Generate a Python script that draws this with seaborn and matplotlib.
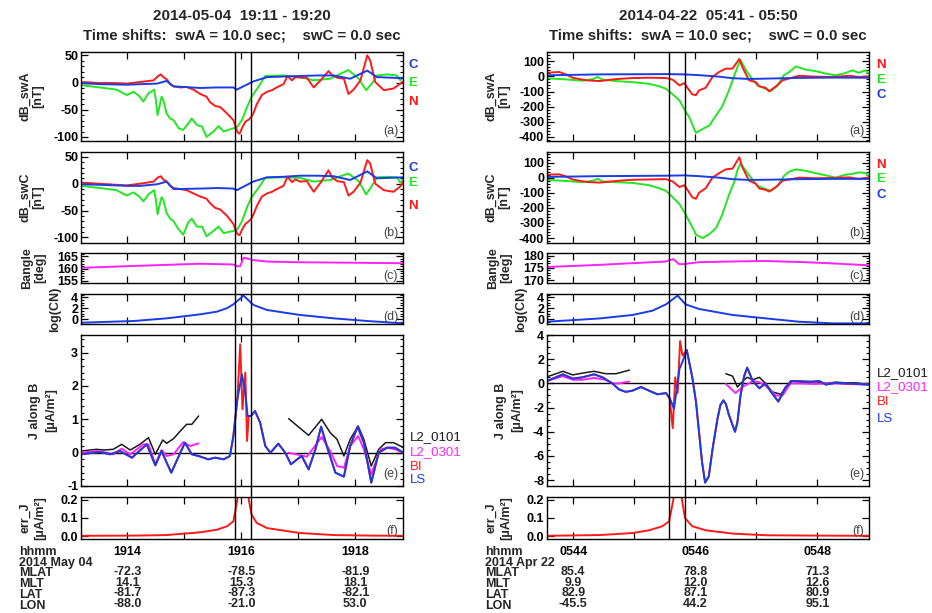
import matplotlib
matplotlib.use("Agg")
import matplotlib.pyplot as plt
import seaborn as sns
from matplotlib.ticker import MultipleLocator, FuncFormatter, NullLocator
from matplotlib.lines import Line2D
from matplotlib import transforms

# ====================== DATA (time in minutes after the hour) ======================
# ---------- Left event: 2014-05-04 (hour 19) ----------
L_title = "2014-05-04  19:11 - 19:20"
L_hour = 19
L_xlim = (13.186, 18.837)
L_vlines = [15.89, 16.17]

L_C_t = [13.19, 13.52, 14.00, 14.22, 14.52, 14.69, 14.81, 15.28, 15.57, 15.86, 15.92, 16.21, 16.45,
         16.74, 17.03, 17.33, 17.62, 17.91, 18.21, 18.38, 18.84]
L_a_C = [-1, -3, -4, -3, -2, 3, -7, -10, -9, -9, -13, 2, 10, 11, 12, 13, 13, 7, 22, 10, 8]
L_b_C = [-1, -2, -4, -4, -1, 4, -10, -9, -8, -9, -12, 4, 12, 13, 15, 15, 14, 7, 23, 10, 12]

L_E_t = [13.19, 13.52, 13.81, 13.99, 14.11, 14.22, 14.28, 14.37, 14.47, 14.50, 14.53, 14.56, 14.60, 14.63,
         14.69, 14.75, 14.81, 14.90, 14.98, 15.07, 15.13, 15.22, 15.31, 15.39, 15.51, 15.60, 15.69, 15.86,
         15.93, 16.01, 16.10, 16.18, 16.30, 16.42, 16.74, 17.03, 17.27, 17.56, 17.74, 17.88, 18.06, 18.19,
         18.29, 18.38, 18.56, 18.73, 18.79, 18.84]
L_a_E = [-5, -9, -13, -23, -17, -26, -35, -20, -13, -32, -60, -45, -26, -32, -57, -66, -69, -84, -87, -75,
         -66, -78, -81, -100, -90, -80, -90, -84, -81, -69, -45, -26, -8, 12, 13, 10, 4, 7, 16, 23,
         7, -14, -2, 13, 15, 13, 4, 10]
L_b_E = [-4, -8, -12, -22, -16, -25, -33, -20, -12, -30, -57, -42, -25, -30, -55, -65, -70, -85, -95, -72,
         -65, -80, -80, -98, -88, -80, -92, -88, -85, -70, -44, -25, -8, 11, 12, 11, 4, 7, 14, 19,
         5, -20, -4, 12, 13, 12, 2, 8]

L_N_t = [13.19, 13.52, 13.81, 13.99, 14.22, 14.46, 14.54, 14.59, 14.63, 14.69, 14.75, 14.81, 14.93, 15.04,
         15.16, 15.28, 15.39, 15.45, 15.54, 15.63, 15.75, 15.86, 15.93, 15.97, 16.01, 16.07, 16.13, 16.17,
         16.21, 16.27, 16.36, 16.45, 16.54, 16.62, 16.74, 16.81, 16.89, 16.95, 17.03, 17.15, 17.27, 17.39,
         17.53, 17.59, 17.68, 17.80, 17.88, 17.97, 18.09, 18.21, 18.26, 18.35, 18.50, 18.67, 18.79, 18.84]
L_a_N = [1, -1, -1, -2, 1, 4, 12, 15, 10, 6, -3, -7, -9, -8, -13, -21, -26, -36, -43, -45,
         -57, -69, -91, -94, -84, -72, -68, -64, -57, -40, -23, -17, -14, -9, -3, 12, 4, 10, 9, 9,
         -9, 4, 21, 14, 9, 7, -21, -13, 4, 50, 41, 1, -14, -11, -2, 2]
L_b_N = [2, 0, -2, -3, 0, 4, 12, 14, 8, 4, -4, -8, -10, -12, -18, -24, -28, -36, -45, -48,
         -60, -75, -94, -96, -86, -75, -70, -66, -58, -42, -24, -18, -15, -10, -4, 13, 3, 8, 4, 5,
         -15, 2, 25, 12, 5, 3, -22, -15, 2, 44, 38, 0, -12, -15, -5, 3]

L_c_t = [13.19, 14.00, 15.28, 15.86, 15.93, 15.98, 16.04, 16.21, 16.45, 17.03, 18.00, 18.84]
L_c = [160.3, 161.0, 162.0, 161.7, 160.9, 161.0, 164.5, 163.5, 162.9, 162.6, 162.4, 162.2]

L_d_t = [13.19, 14.11, 14.69, 15.28, 15.57, 15.75, 15.86, 16.04, 16.21, 16.45, 17.03, 17.62, 18.21, 18.84]
L_d = [-0.68, -0.37, 0.12, 0.86, 1.35, 2.0, 2.7, 4.3, 2.6, 1.66, 0.74, 0.12, -0.37, -0.8]

L_L1_t1 = [13.19, 13.46, 13.58, 13.75, 13.90, 14.05, 14.22, 14.37, 14.49, 14.62, 14.69, 14.81, 14.93, 15.04, 15.13, 15.25]
L_L1_v1 = [0.05, 0.1, 0.08, 0.1, 0.25, 0.08, 0.25, 0.45, -0.05, 0.38, 0.28, 0.42, 0.65, 0.85, 0.85, 1.1]
L_L1_t2 = [16.83, 17.18, 17.41, 17.56, 17.68, 17.80, 17.91, 18.05, 18.15, 18.28, 18.41, 18.53, 18.67, 18.79, 18.84]
L_L1_v2 = [1.02, 0.52, 1.0, 0.6, 0.4, -0.1, 0.4, 0.8, 0.4, -0.4, 0.1, 0.3, 0.3, 0.2, 0.15]
L_L3_t1 = [13.19, 13.46, 13.64, 13.75, 13.90, 14.05, 14.28, 14.37, 14.49, 14.60, 14.69, 14.81, 14.98, 15.10, 15.25]
L_L3_v1 = [0.0, 0.05, 0.0, -0.05, 0.12, -0.05, 0.25, 0.25, -0.35, 0.08, -0.1, -0.05, 0.32, 0.2, 0.28]
L_L3_t2 = [16.83, 17.15, 17.41, 17.56, 17.68, 17.80, 17.91, 18.05, 18.15, 18.28, 18.44, 18.56, 18.70, 18.84]
L_L3_v2 = [0.0, -0.12, 0.47, 0.05, -0.4, -0.45, 0.2, 0.5, 0.1, -0.65, 0.1, 0.15, 0.1, 0.0]
L_LS_t = [13.19, 13.40, 13.52, 13.70, 13.87, 14.08, 14.34, 14.49, 14.60, 14.69, 14.77, 14.93, 15.01, 15.13,
          15.25, 15.42, 15.54, 15.69, 15.80, 15.86, 15.93, 16.01, 16.07, 16.11, 16.17, 16.24, 16.33, 16.42,
          16.51, 16.65, 16.77, 16.87, 16.98, 17.06, 17.18, 17.30, 17.40, 17.50, 17.65, 17.80, 17.91, 18.04,
          18.15, 18.28, 18.41, 18.56, 18.70, 18.84]
L_LS = [-0.05, 0.0, 0.02, -0.05, 0.05, -0.15, 0.25, -0.38, 0.05, -0.3, -0.6, 0.0, 0.3, -0.05, -0.1, -0.2,
        -0.15, -0.2, -0.1, 0.5, 1.6, 2.35, 1.8, 1.1, 1.1, 1.25, 0.9, 0.2, 0.0, 0.27, 0.0, -0.35, -0.2, -0.1,
        -0.5, 0.1, 0.78, 0.2, -0.6, -0.72, 0.2, 0.78, 0.3, -0.9, 0.0, 0.15, 0.15, 0.0]
L_BI_t = [13.19, 13.40, 13.52, 13.70, 13.87, 14.08, 14.34, 14.49, 14.60, 14.69, 14.77, 14.93, 15.01, 15.13,
          15.25, 15.42, 15.54, 15.69, 15.80, 15.86, 15.93, 15.98, 16.02, 16.07, 16.10, 16.13, 16.17, 16.24,
          16.33, 16.42, 16.51, 16.65, 16.77, 16.87, 16.98, 17.06, 17.18, 17.30, 17.40, 17.50, 17.65, 17.80,
          17.91, 18.04, 18.15, 18.28, 18.41, 18.56, 18.70, 18.84]
L_BI = [-0.05, 0.0, 0.02, -0.05, 0.05, -0.15, 0.25, -0.38, 0.05, -0.3, -0.6, 0.0, 0.3, -0.05, -0.1, -0.2,
        -0.15, -0.2, -0.1, 0.5, 1.6, 3.25, 1.3, 2.4, 0.35, 1.1, 1.1, 1.25, 0.9, 0.2, 0.0, 0.27, 0.0, -0.35,
        -0.2, -0.1, -0.5, 0.1, 0.78, 0.2, -0.6, -0.72, 0.2, 0.78, 0.3, -0.9, 0.0, 0.15, 0.15, 0.0]

L_f_t = [13.19, 14.11, 14.69, 15.28, 15.57, 15.75, 15.86, 15.93, 15.96, 16.11, 16.13, 16.18, 16.27, 16.45,
         17.03, 17.62, 18.30, 18.84]
L_f = [0.003, 0.004, 0.007, 0.022, 0.036, 0.055, 0.082, 0.2, 0.3, 0.3, 0.2, 0.118, 0.073, 0.045, 0.018,
       0.007, 0.004, 0.003]

L_ticks = [14, 16, 18]
L_date = "2014 May 04"
L_MLAT = ["-72.3", "-78.5", "-81.9"]
L_MLT = ["14.1", "15.3", "18.1"]
L_LAT = ["-81.7", "-87.3", "-82.1"]
L_LON = ["-88.0", "-21.0", "53.0"]

# ---------- Right event: 2014-04-22 (hour 05) ----------
R_title = "2014-04-22  05:41 - 05:50"
R_hour = 5
R_xlim = (43.569, 48.846)
R_vlines = [45.57, 45.83]

R_C_t = [43.57, 44.43, 45.52, 45.82, 46.06, 46.39, 46.61, 46.88, 47.15, 47.70, 48.25, 48.85]
R_a_C = [7, 13, 15, 13, 8, -2, -12, -17, -15, -10, -8, -9]
R_b_C = [5, 10, 13, 15, 10, 0, -10, -15, -14, -10, -8, -8]

R_N_t = [43.57, 43.77, 43.88, 43.99, 44.21, 44.43, 44.70, 44.97, 45.24, 45.52, 45.63, 45.74, 45.82, 45.87,
         45.95, 46.01, 46.06, 46.17, 46.28, 46.39, 46.50, 46.61, 46.72, 46.77, 46.88, 46.99, 47.05, 47.15,
         47.21, 47.32, 47.43, 47.70, 47.97, 48.25, 48.52, 48.68, 48.85]
R_a_N = [24, 29, 13, -9, -26, -31, -18, -11, -9, -11, -22, -60, -44, -75, -119, -124, -93, -75, -4, 29,
         51, 51, 115, 62, -26, -38, -66, -75, -99, -66, -26, 4, -2, -4, 4, -4, 0]
R_b_N = [20, 22, 8, -12, -28, -33, -22, -14, -12, -10, -25, -62, -50, -80, -130, -140, -100, -70, 0, 30,
         55, 60, 135, 70, -20, -40, -72, -80, -92, -62, -20, 0, -4, -2, 2, -8, 2]

R_E_t = [43.57, 43.88, 44.15, 44.32, 44.40, 44.48, 44.70, 44.97, 45.24, 45.41, 45.52, 45.63, 45.74, 45.83,
         45.90, 45.98, 46.01, 46.12, 46.23, 46.34, 46.44, 46.55, 46.64, 46.69, 46.74, 46.83, 46.94, 47.02,
         47.15, 47.24, 47.35, 47.45, 47.54, 47.65, 47.81, 47.97, 48.14, 48.30, 48.46, 48.57, 48.68, 48.79, 48.85]
R_a_E = [-13, -20, -29, -18, -4, -22, -31, -38, -49, -66, -82, -119, -159, -225, -269, -346, -373, -347,
         -325, -258, -199, -93, 7, 62, 110, 40, -22, -60, -82, -97, -60, 7, 29, 66, 44, 35, 18, 7, 22, 40,
         24, 40, 13]
R_b_E = [-15, -22, -30, -20, -8, -25, -30, -35, -50, -70, -88, -130, -175, -235, -290, -350, -378, -400,
         -374, -334, -246, -115, -27, 50, 93, 45, -15, -55, -75, -88, -55, 10, 40, 55, 45, 30, 15, 0, 20, 25,
         35, 30, 10]

R_c_t = [43.57, 44.43, 45.52, 45.64, 45.74, 45.84, 46.06, 46.61, 47.15, 47.70, 48.25, 48.85]
R_c = [175.4, 176.3, 177.7, 178.7, 176.5, 176.7, 177.4, 177.7, 177.9, 177.5, 176.9, 176.1]

R_d_t = [43.57, 44.43, 44.97, 45.30, 45.52, 45.71, 45.84, 46.06, 46.61, 47.15, 47.70, 48.25, 48.85]
R_d = [-0.5, 0.1, 0.74, 1.54, 2.7, 4.3, 2.7, 1.85, 0.74, 0.12, -0.5, -0.8, -0.8]

R_L1_t1 = [43.57, 43.66, 43.83, 43.99, 44.15, 44.34, 44.53, 44.70, 44.92]
R_L1_v1 = [0.55, 0.7, 1.0, 0.7, 0.85, 1.0, 0.8, 0.8, 1.1]
R_L1_t2 = [46.50, 46.61, 46.69, 46.80, 46.85, 46.94, 47.05, 47.15, 47.26, 47.40, 47.56, 47.70, 47.97, 48.14,
           48.30, 48.46, 48.63, 48.85]
R_L1_v2 = [0.8, 0.6, -0.3, 0.3, 0.5, 0.3, 0.5, 0.0, -0.7, -0.9, 0.2, 0.2, 0.15, 0.0, 0.1, 0.05, 0.05, -0.1]
R_L3_t1 = [43.57, 43.83, 43.99, 44.15, 44.34, 44.53, 44.64, 44.75, 44.92]
R_L3_v1 = [0.2, 0.6, 0.3, 0.3, 0.45, 0.3, 0.0, 0.0, 0.15]
R_L3_t2 = [46.50, 46.66, 46.77, 46.88, 46.94, 47.05, 47.15, 47.32, 47.43, 47.56, 47.70, 47.97, 48.14, 48.30,
           48.46, 48.85]
R_L3_v2 = [-0.05, -0.8, -0.3, 0.0, 0.2, 0.1, -0.2, -1.0, -1.0, 0.0, 0.0, -0.05, 0.0, 0.0, -0.05, -0.1]
R_LS_t = [43.57, 43.83, 43.99, 44.15, 44.34, 44.48, 44.64, 44.75, 44.86, 44.97, 45.11, 45.24, 45.38, 45.52,
          45.58, 45.65, 45.74, 45.79, 45.86, 45.95, 46.01, 46.06, 46.11, 46.16, 46.22, 46.28, 46.36, 46.41,
          46.46, 46.50, 46.55, 46.65, 46.69, 46.74, 46.80, 46.85, 46.94, 47.05, 47.15, 47.24, 47.36, 47.48,
          47.59, 47.70, 47.86, 48.03, 48.14, 48.30, 48.46, 48.68, 48.85]
R_LS = [0.2, 0.75, 0.4, 0.5, 0.75, 0.5, 0.0, -0.5, -0.7, -0.6, -0.3, -0.6, -0.9, -0.8, -1.2, -2.1, 1.2, 1.8,
        2.75, 0.5, -1.5, -4.0, -6.5, -8.2, -7.7, -5.5, -3.0, -1.8, -1.4, -1.7, -2.6, -4.0, -3.2, -1.0, 0.6,
        1.3, 0.2, -0.4, 0.0, -0.7, -1.5, -0.3, 0.2, 0.15, 0.1, 0.2, -0.1, 0.05, 0.0, -0.05, -0.1]
R_BI_t = [43.57, 43.83, 43.99, 44.15, 44.34, 44.48, 44.64, 44.75, 44.86, 44.97, 45.11, 45.24, 45.38, 45.52,
          45.58, 45.63, 45.67, 45.71, 45.75, 45.79, 45.86, 45.95, 46.01, 46.06, 46.11, 46.16, 46.22, 46.28,
          46.36, 46.41, 46.46, 46.50, 46.55, 46.65, 46.69, 46.74, 46.80, 46.85, 46.94, 47.05, 47.15, 47.24,
          47.36, 47.48, 47.59, 47.70, 47.86, 48.03, 48.14, 48.30, 48.46, 48.68, 48.85]
R_BI = [0.2, 0.75, 0.4, 0.5, 0.75, 0.5, 0.0, -0.5, -0.7, -0.6, -0.3, -0.6, -0.9, -0.8, -1.3, -3.7, 0.5, -0.8,
        3.5, 2.3, 2.75, 0.5, -1.5, -4.0, -6.5, -8.2, -7.7, -5.5, -3.0, -1.8, -1.4, -1.7, -2.6, -4.0, -3.2,
        -1.0, 0.6, 1.3, 0.2, -0.4, 0.0, -0.7, -1.5, -0.3, 0.2, 0.15, 0.1, 0.2, -0.1, 0.05, 0.0, -0.05, -0.1]

R_f_t = [43.57, 44.43, 44.97, 45.24, 45.46, 45.57, 45.64, 45.66, 45.76, 45.78, 45.83, 45.95, 46.17, 46.61,
         47.15, 48.00, 48.85]
R_f = [0.003, 0.007, 0.018, 0.033, 0.055, 0.082, 0.2, 0.3, 0.3, 0.2, 0.1, 0.055, 0.033, 0.015, 0.006,
       0.004, 0.003]

R_ticks = [44, 46, 48]
R_date = "2014 Apr 22"
R_MLAT = ["85.4", "78.8", "71.3"]
R_MLT = ["9.9", "12.0", "12.6"]
R_LAT = ["82.9", "87.1", "80.9"]
R_LON = ["-45.5", "44.2", "95.1"]

SUBTITLE = "Time shifts:  swA = 10.0 sec;    swC = 0.0 sec"
ROW_NAMES = ["MLAT", "MLT", "LAT", "LON"]

# ====================== STYLE ======================
sns.set_theme(style="ticks")
plt.rcParams['font.family'] = ['Liberation Sans', 'DejaVu Sans']
plt.rcParams['axes.edgecolor'] = 'black'
plt.rcParams['axes.linewidth'] = 1.0

RED = '#ff1a1a'
GREEN = '#22e622'
BLUE = '#1a3ce6'
MAG = '#ff22ff'
BLK = '#1a1a1a'
LW = 1.4

W, H = 932, 613
fig = plt.figure(figsize=(W / 100, H / 100), dpi=100)
fig.patch.set_facecolor('white')

ROWS = {'a': (52, 141), 'b': (152, 243), 'c': (253, 283), 'd': (294, 324), 'e': (335, 486), 'f': (497, 539)}
YLAB_X = {'a': -0.154, 'b': -0.154, 'c': -0.146, 'd': -0.081, 'e': -0.118, 'f': -0.149}
YLAB_LS = {'a': 1.1, 'b': 1.1, 'c': 1.1, 'd': 1.1, 'e': 1.5, 'f': 1.3}


def make_ax(x0, key):
    top, bot = ROWS[key]
    ax = fig.add_axes([x0 / W, 1 - bot / H, 322 / W, (bot - top) / H])
    ax.set_facecolor('white')
    return ax


def line(ax, t, v, color, lw=LW):
    sns.lineplot(x=t, y=v, ax=ax, color=color, linewidth=lw, estimator=None, sort=False, legend=False)


def style(ax, key, xlim, ylim, major, minor, fmt, ylabel):
    ax.set_xlim(*xlim)
    ax.set_ylim(*ylim)
    ax.set_xlabel('')
    ax.set_ylabel('')
    ax.xaxis.set_major_locator(MultipleLocator(1))
    ax.xaxis.set_minor_locator(NullLocator())
    ax.yaxis.set_major_locator(MultipleLocator(major))
    if minor:
        ax.yaxis.set_minor_locator(MultipleLocator(minor))
    else:
        ax.yaxis.set_minor_locator(NullLocator())
    ax.yaxis.set_major_formatter(FuncFormatter(fmt))
    ax.tick_params(which='both', direction='in', top=True, right=True, bottom=True, left=True,
                   labelbottom=False, colors='black')
    ax.tick_params(which='major', length=5, width=0.9, pad=2)
    ax.tick_params(which='minor', length=2.5, width=0.8)
    for lab in ax.get_yticklabels():
        lab.set_fontweight('bold')
        lab.set_fontsize(9)
    for s in ax.spines.values():
        s.set_color('black')
        s.set_linewidth(1.0)
    ax.text(YLAB_X[key], 0.5, ylabel, transform=ax.transAxes, rotation=90, ha='center', va='center',
            fontsize=9, fontweight='bold', linespacing=YLAB_LS[key])
    ax.text(0.985, 0.04, f"({key})", transform=ax.transAxes, ha='right', va='bottom', fontsize=9,
            color='#444444')


int_fmt = lambda v, p: f"{int(round(v))}"
f_fmt = lambda v, p: f"{v:.1f}"


def draw_column(x0, c):
    axs = {k: make_ax(x0, k) for k in 'abcdef'}
    xl = c['xlim']
    # (a) and (b)
    for k in 'ab':
        ax = axs[k]
        line(ax, c['E_t'], c[k + '_E'], GREEN)
        line(ax, c['N_t'], c[k + '_N'], RED)
        line(ax, c['C_t'], c[k + '_C'], BLUE)
        style(ax, k, xl, c['ylim'][k], c['major'][k], c['minor'][k], int_fmt,
              "dB_sw" + ('A' if k == 'a' else 'C') + "\n[nT]")
        for name, col, yy in c['leg'][k]:
            ax.text(c['legx'], yy, name, transform=ax.transAxes, color=col, fontsize=9.5,
                    fontweight='bold', ha='center', va='center')
    # (c)
    line(axs['c'], c['c_t'], c['c'], MAG)
    style(axs['c'], 'c', xl, c['ylim']['c'], 5, 1, int_fmt, "Bangle\n[deg]")
    # (d)
    line(axs['d'], c['d_t'], c['d'], BLUE)
    style(axs['d'], 'd', xl, c['ylim']['d'], 2, 0.5, int_fmt, "log(CN)")
    # (e)
    ax = axs['e']
    ax.axhline(0, color='black', lw=1.0)
    line(ax, c['L1_t1'], c['L1_v1'], BLK, 1.1)
    line(ax, c['L1_t2'], c['L1_v2'], BLK, 1.1)
    line(ax, c['L3_t1'], c['L3_v1'], MAG)
    line(ax, c['L3_t2'], c['L3_v2'], MAG)
    line(ax, c['BI_t'], c['BI'], RED)
    line(ax, c['LS_t'], c['LS'], BLUE)
    style(ax, 'e', xl, c['ylim']['e'], c['major']['e'], c['minor']['e'], int_fmt, "J along B\n[\u03bcA/m\u00b2]")
    for (name, col), yy in zip([("L2_0101", BLK), ("L2_0301", MAG), ("BI", RED), ("LS", BLUE)], c['eleg']):
        ax.text(c['elegx'], yy, name, transform=ax.transAxes, color=col, fontsize=9.5,
                ha='left', va='center')
    # (f)
    ax = axs['f']
    line(ax, c['f_t'], c['f'], RED)
    style(ax, 'f', xl, (-0.0145, 0.2145), 0.1, None, f_fmt, "err_J\n[\u03bcA/m\u00b2]")
    hour = c['hour']
    ax.xaxis.set_major_formatter(FuncFormatter(
        lambda v, p: f"{hour:02d}{int(round(v)):02d}" if int(round(v)) % 2 == 0 else ""))
    ax.tick_params(axis='x', labelbottom=True, labelsize=9, pad=5)
    for lab in ax.get_xticklabels():
        lab.set_fontweight('bold')

    # titles
    axa = axs['a']
    axa.text(0.5, (141 - 16) / 89, c['title'], transform=axa.transAxes, ha='center', va='center',
             fontsize=11, fontweight='bold')
    axa.text(0.5, (141 - 36) / 89, SUBTITLE, transform=axa.transAxes, ha='center', va='center',
             fontsize=10.8, fontweight='bold')

    # vertical event lines spanning (a)..(f)
    tr = transforms.blended_transform_factory(axa.transData, fig.transFigure)
    for t in c['vlines']:
        fig.add_artist(Line2D([t, t], [1 - 539 / H, 1 - 52 / H], transform=tr, color='black', lw=1.0))

    # bottom annotation block: one multi-line label column, one multi-line value column per tick
    trf = transforms.blended_transform_factory(axs['f'].transData, fig.transFigure)
    lx = (x0 - 62) / W
    fig.text(lx, 1 - 546 / H, "\n".join(["hhmm", c['date']] + ROW_NAMES), fontsize=9,
             fontweight='bold', va='top', ha='left', linespacing=0.86, multialignment='left')
    for i, t in enumerate(c['ticks']):
        txt = "\n".join([c['MLAT'][i], c['MLT'][i], c['LAT'][i], c['LON'][i]])
        fig.text(t, 1 - 566 / H, txt, transform=trf, fontsize=9, fontweight='bold', va='top',
                 ha='center', linespacing=0.86, multialignment='center')


left = dict(title=L_title, hour=L_hour, xlim=L_xlim, vlines=L_vlines,
            C_t=L_C_t, a_C=L_a_C, b_C=L_b_C, E_t=L_E_t, a_E=L_a_E, b_E=L_b_E,
            N_t=L_N_t, a_N=L_a_N, b_N=L_b_N, c_t=L_c_t, c=L_c, d_t=L_d_t, d=L_d,
            L1_t1=L_L1_t1, L1_v1=L_L1_v1, L1_t2=L_L1_t2, L1_v2=L_L1_v2,
            L3_t1=L_L3_t1, L3_v1=L_L3_v1, L3_t2=L_L3_t2, L3_v2=L_L3_v2,
            LS_t=L_LS_t, LS=L_LS, BI_t=L_BI_t, BI=L_BI, f_t=L_f_t, f=L_f,
            ticks=L_ticks, date=L_date, MLAT=L_MLAT, MLT=L_MLT, LAT=L_LAT, LON=L_LON,
            ylim={'a': (-107.4, 56.1), 'b': (-110.5, 59.2), 'c': (154.1, 166.4), 'd': (-0.92, 4.6),
                  'e': (-1.0, 3.53)},
            major={'a': 50, 'b': 50, 'e': 1}, minor={'a': 10, 'b': 10, 'e': 0.2},
            leg={'a': [("C", BLUE, 0.854), ("E", GREEN, 0.652), ("N", RED, 0.438)],
                 'b': [("C", BLUE, 0.824), ("E", GREEN, 0.659), ("N", RED, 0.407)]},
            legx=1.031, eleg=[0.325, 0.225, 0.126, 0.040], elegx=1.022)

right = dict(title=R_title, hour=R_hour, xlim=R_xlim, vlines=R_vlines,
             C_t=R_C_t, a_C=R_a_C, b_C=R_b_C, E_t=R_E_t, a_E=R_a_E, b_E=R_b_E,
             N_t=R_N_t, a_N=R_a_N, b_N=R_b_N, c_t=R_c_t, c=R_c, d_t=R_d_t, d=R_d,
             L1_t1=R_L1_t1, L1_v1=R_L1_v1, L1_t2=R_L1_t2, L1_v2=R_L1_v2,
             L3_t1=R_L3_t1, L3_v1=R_L3_v1, L3_t2=R_L3_t2, L3_v2=R_L3_v2,
             LS_t=R_LS_t, LS=R_LS, BI_t=R_BI_t, BI=R_BI, f_t=R_f_t, f=R_f,
             ticks=R_ticks, date=R_date, MLAT=R_MLAT, MLT=R_MLT, LAT=R_LAT, LON=R_LON,
             ylim={'a': (-427, 161), 'b': (-433, 170), 'c': (168.8, 181.2), 'd': (-0.92, 4.6),
                   'e': (-8.48, 4.0)},
             major={'a': 100, 'b': 100, 'e': 2}, minor={'a': 20, 'b': 20, 'e': 0.5},
             leg={'a': [("N", RED, 0.85), ("E", GREEN, 0.68), ("C", BLUE, 0.517)],
                  'b': [("N", RED, 0.855), ("E", GREEN, 0.70), ("C", BLUE, 0.527)]},
             legx=1.037, eleg=[0.748, 0.656, 0.556, 0.444], elegx=1.025)

draw_column(81, left)
draw_column(547, right)

fig.savefig("out.png", dpi=100, facecolor='white')
